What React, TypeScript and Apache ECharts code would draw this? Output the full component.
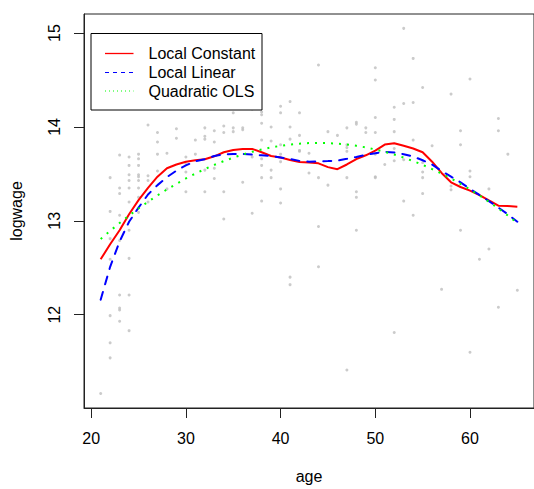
import React, { useEffect, useRef } from "react";
import * as echarts from "echarts";

// observed data (age, logwage)
const obsAge = [
  21,
  22, 22, 22, 22, 22, 22, 22,
  23, 23, 23, 23, 23, 23, 23, 23, 23,
  24, 24, 24, 24, 24, 24, 24, 24, 24, 24,
  25, 25, 25, 25, 25, 25, 25, 25, 25,
  26, 26, 26, 26,
  27, 27, 27, 27,
  28, 28,
  29, 29,
  30, 30, 30, 30,
  31, 31,
  32, 32, 32, 32, 32,
  33, 33, 33, 33,
  34, 34, 34, 34,
  35, 35, 35,
  36, 36, 36,
  37, 37, 37,
  38, 38, 38, 38, 38, 38, 38, 38,
  39, 39, 39, 39,
  40, 40, 40, 40, 40, 40, 40,
  41, 41, 41, 41, 41,
  42, 42, 42, 42,
  43, 43,
  44, 44, 44, 44,
  45, 45,
  46,
  47, 47, 47, 47, 47, 47,
  48, 48, 48, 48, 48,
  49, 49,
  50, 50, 50, 50, 50, 50, 50,
  51,
  52, 52, 52, 52, 52, 52,
  53, 53, 53, 53,
  54, 54, 54, 54,
  55, 55, 55, 55, 55,
  56,
  57,
  58, 58, 58,
  59, 59, 59,
  60, 60, 60, 60,
  61,
  62, 62,
  63, 63, 63,
  64,
  65,
];
const obsLogwage = [
  11.16,
  13.46, 13.1, 12.81, 12.59, 11.99, 11.7, 11.54,
  13.7, 13.35, 13.29, 13.06, 12.79, 12.21, 12.07, 12.05, 11.93,
  13.68, 13.59, 13.49, 13.43, 13.35, 13.2, 12.9, 12.6, 12.21, 11.83,
  13.71, 13.66, 13.59, 13.49, 13.47, 13.43, 13.35, 13.25, 13.09,
  14.02, 13.48, 13.43, 13.2,
  13.94, 13.84, 13.71, 13.53,
  13.72, 13.34,
  13.98, 13.88,
  13.68, 13.61, 13.52, 13.31,
  13.86, 13.71,
  13.99, 13.9, 13.87, 13.54, 13.31,
  13.96, 13.84, 13.56, 13.45,
  14.01, 13.94, 13.31, 13.02,
  14.15, 13.99, 13.95,
  13.99, 13.97, 13.41,
  14.19, 13.68, 13.08,
  14.16, 14.13, 14.04, 13.86, 13.66, 13.59, 13.46, 13.21,
  14.0, 13.85, 13.54, 13.46,
  14.22, 14.15, 13.81, 13.71, 13.63, 13.34, 13.19,
  14.27, 14.0, 13.87, 12.4, 12.32,
  14.15, 13.91, 13.75, 13.74,
  13.72, 13.51,
  14.66, 13.46, 12.94, 12.51,
  13.95, 13.38,
  13.91,
  13.99, 13.81, 13.78, 13.74, 13.46, 11.41,
  14.05, 14.03, 13.31, 13.25, 12.9,
  13.99, 13.94,
  14.63, 14.5, 14.1, 13.94, 13.71, 13.47, 13.46,
  13.6,
  14.21, 14.08, 13.95, 13.77, 13.64, 11.81,
  15.05, 14.25, 13.65, 13.21,
  14.73, 14.26, 13.86, 13.06,
  14.42, 13.62, 13.52, 13.46, 13.29,
  13.8,
  12.27,
  14.35, 13.37, 13.33,
  13.96, 13.81, 12.9,
  14.51, 13.53, 13.47, 11.6,
  12.59,
  13.34, 12.7,
  14.09, 13.96, 12.08,
  13.71,
  12.26,
];

// fitted curves at each age
const fitAge = [
  21, 22, 23, 24, 25, 26, 27, 28, 29, 30, 31, 32, 33, 34, 35, 36, 37, 38, 39, 40, 41, 42, 43,
  44, 45, 46, 47, 48, 49, 50, 51, 52, 53, 54, 55, 56, 57, 58, 59, 60, 61, 62, 63, 64, 65,
];
const localConstant = [
  12.59, 12.75, 12.9, 13.07, 13.22, 13.35, 13.47, 13.56, 13.6, 13.63, 13.645, 13.656, 13.687,
  13.73, 13.754, 13.766, 13.766, 13.73, 13.69, 13.674, 13.648, 13.627, 13.62, 13.612, 13.572,
  13.55, 13.6, 13.658, 13.698, 13.748, 13.812, 13.827, 13.8, 13.77, 13.73, 13.63, 13.51, 13.41,
  13.36, 13.322, 13.274, 13.217, 13.161, 13.158, 13.15,
];
const localLinear = [
  12.16, 12.51, 12.78, 12.99, 13.14, 13.28, 13.38, 13.465, 13.535, 13.59, 13.635, 13.656, 13.69,
  13.708, 13.712, 13.712, 13.705, 13.698, 13.69, 13.675, 13.658, 13.638, 13.63, 13.632, 13.636,
  13.642, 13.66, 13.68, 13.702, 13.72, 13.735, 13.728, 13.71, 13.685, 13.645, 13.6, 13.53,
  13.47, 13.41, 13.34, 13.275, 13.21, 13.14, 13.07, 12.99,
];
const quadraticOLS = [
  12.806, 12.893, 12.976, 13.056, 13.131, 13.203, 13.27, 13.334, 13.394, 13.451, 13.503, 13.551,
  13.596, 13.636, 13.673, 13.706, 13.735, 13.76, 13.782, 13.799, 13.813, 13.822, 13.828, 13.83,
  13.828, 13.822, 13.813, 13.799, 13.782, 13.76, 13.735, 13.706, 13.673, 13.636, 13.596, 13.551,
  13.503, 13.451, 13.394, 13.334, 13.27, 13.203, 13.131, 13.056, 12.976,
];

const xTicks = [20, 30, 40, 50, 60];
const yTicks = [12, 13, 14, 15];
const legendLabels = ["Local Constant", "Local Linear", "Quadratic OLS"];
const seriesColors = ["#FF0000", "#0000FF", "#00FF00"];

const FONT = "'Liberation Sans', Arial, Helvetica, sans-serif";

export default function App() {
  const ref = useRef<HTMLDivElement>(null);

  useEffect(() => {
    if (!ref.current) return;
    const chart = echarts.init(ref.current, undefined, { renderer: "svg" });

    const scatterData = obsAge.map((a, i) => [a, obsLogwage[i]]);
    const toLine = (vals: number[]) => fitAge.map((a, i) => [a, vals[i]]);

    const legendX = 91;
    const legendY = 33.5;
    const legendRowY = [53.5, 72.5, 91];
    const legendDash: (number[] | null)[] = [null, [4, 4], [1, 3]];

    const legendGraphics: any[] = [
      {
        type: "rect",
        shape: { x: legendX, y: legendY, width: 171, height: 76.5 },
        style: { fill: "#fff", stroke: "#000", lineWidth: 1 },
        z: 100,
      },
    ];
    legendLabels.forEach((lab, i) => {
      const st: any = { stroke: seriesColors[i], lineWidth: i === 0 ? 1.3 : 1 };
      const d = legendDash[i];
      if (d) st.lineDash = d;
      legendGraphics.push({
        type: "line",
        shape: { x1: 105, y1: legendRowY[i], x2: 133.5, y2: legendRowY[i] },
        style: st,
        z: 101,
      });
      legendGraphics.push({
        type: "text",
        x: 148.5,
        y: legendRowY[i],
        style: {
          text: lab,
          fill: "#000",
          font: `16px ${FONT}`,
          textAlign: "left",
          textVerticalAlign: "middle",
        },
        z: 101,
      });
    });

    chart.setOption({
      animation: false,
      backgroundColor: "#fff",
      textStyle: { fontFamily: FONT },
      grid: {
        left: 83,
        top: 14,
        width: 457,
        height: 399,
        show: true,
        borderColor: "#222",
        borderWidth: 1,
        backgroundColor: "transparent",
      },
      xAxis: {
        type: "value",
        min: 19.24,
        max: 66.76,
        name: "age",
        nameLocation: "middle",
        nameGap: 60,
        nameTextStyle: { fontSize: 16, color: "#000", fontFamily: FONT },
        axisLine: { show: true, lineStyle: { color: "#222", width: 1 } },
        axisTick: {
          show: true,
          length: 10,
          customValues: xTicks,
          lineStyle: { color: "#222", width: 1 },
        },
        axisLabel: {
          customValues: xTicks,
          fontSize: 16,
          color: "#000",
          fontFamily: FONT,
          margin: 22,
        },
        splitLine: { show: false },
      },
      yAxis: {
        type: "value",
        min: 11.006,
        max: 15.203,
        name: "logwage",
        nameLocation: "middle",
        nameRotate: 90,
        nameGap: 60,
        nameTextStyle: { fontSize: 16, color: "#000", fontFamily: FONT },
        axisLine: { show: true, lineStyle: { color: "#222", width: 1 } },
        axisTick: {
          show: true,
          length: 10,
          customValues: yTicks,
          lineStyle: { color: "#222", width: 1 },
        },
        axisLabel: {
          customValues: yTicks,
          fontSize: 16,
          color: "#000",
          fontFamily: FONT,
          rotate: 90,
          margin: 21.5,
        },
        splitLine: { show: false },
      },
      series: [
        {
          type: "scatter",
          data: scatterData,
          symbol: "circle",
          symbolSize: 3,
          itemStyle: { color: "#BEBEBE" },
          silent: true,
          z: 1,
        },
        {
          name: legendLabels[0],
          type: "line",
          data: toLine(localConstant),
          showSymbol: false,
          symbol: "none",
          lineStyle: { color: seriesColors[0], width: 2 },
          z: 2,
        },
        {
          name: legendLabels[1],
          type: "line",
          data: toLine(localLinear),
          showSymbol: false,
          symbol: "none",
          lineStyle: { color: seriesColors[1], width: 2, type: [8, 8], cap: "round" },
          z: 3,
        },
        {
          name: legendLabels[2],
          type: "line",
          data: toLine(quadraticOLS),
          showSymbol: false,
          symbol: "none",
          lineStyle: { color: seriesColors[2], width: 2, type: [2, 6] },
          z: 4,
        },
      ],
      graphic: legendGraphics,
    });

    return () => chart.dispose();
  }, []);

  return (
    <div
      ref={ref}
      style={{ position: "fixed", left: 0, top: 0, width: 534, height: 489 }}
    />
  );
}
